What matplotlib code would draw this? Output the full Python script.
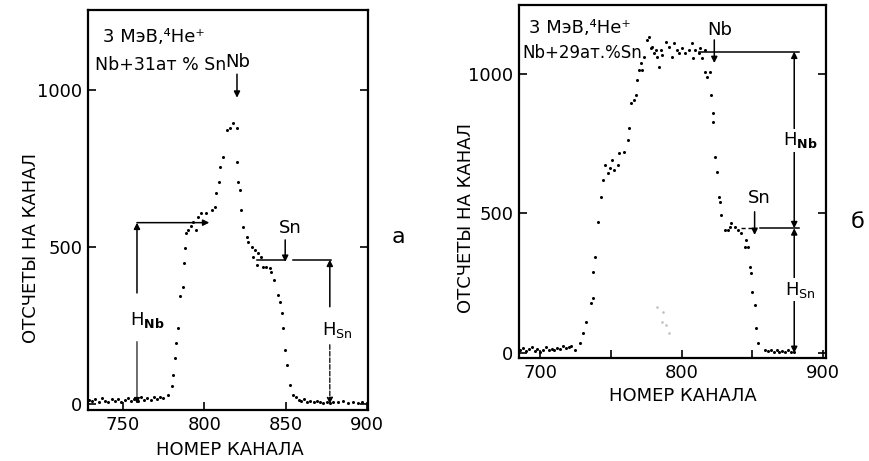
import matplotlib.pyplot as plt
from matplotlib.ticker import MultipleLocator

plt.rcParams['font.family'] = ['DejaVu Sans']

# --- спектр (а): Nb + 31 ат.% Sn ---
ch_a = [729, 731, 733, 735, 737, 739, 741, 743, 745, 747, 749, 751, 753, 755, 757, 759, 761, 763, 765, 767, 769, 771, 773,
        774.6, 777.7, 780, 780.5, 782, 782.6, 784, 785, 786.7, 787.5,
        788, 789, 790, 792, 793, 795, 796, 798, 801, 804.5,
        806.6, 807, 809, 809.6, 811.5, 813.7, 815.7, 817.6, 820, 820,
        820.7, 822, 822.5, 823.6, 826, 826.9, 829, 831, 833, 835,
        830, 832, 836, 838, 840, 841, 843, 845, 846.5, 847.5,
        848.5, 849.6, 850.6, 852.6, 854.5,
        856, 858, 859, 861, 863, 865, 867, 869, 871, 873, 875, 877, 879, 882, 885, 888, 891, 894, 897]
cnt_a = [12, 8, 15, 6, 18, 10, 4, 14, 9, 16, 7, 12, 18, 10, 15, 8, 20, 13, 17, 11, 22, 16, 20,
         19, 29, 55, 92, 146, 193, 241, 342, 372, 448,
         496, 543, 554, 565, 580, 554, 596, 608, 608, 618,
         628, 672, 707, 755, 787, 873, 879, 895, 879, 771,
         707, 682, 618, 564, 532, 516, 500, 490, 481, 468,
         468, 443, 436, 436, 433, 420, 395, 347, 325, 290,
         242, 172, 124, 61, 29,
         20, 12, 8, 14, 6, 10, 4, 8, 5, 3, 7, 2, 6, 4, 8, 3, 5, 2, 4]

# --- спектр (б): Nb + 29 ат.% Sn ---
ch_b = [686, 688, 690, 692, 694, 696, 698, 700, 702, 704, 706, 708, 710, 712, 714, 716, 718, 720, 722,
        724.5, 728, 730, 732.6, 736, 737, 737, 738.5, 740.8, 743,
        744, 745.5, 747.8, 749, 751, 752.4, 754.8, 756, 759.4, 761.8,
        763, 764, 766.4, 767.6, 768.7, 770, 772, 771, 773.4, 775.7,
        777, 778, 779, 780.4, 781.6, 782.7, 784, 785, 786, 788.6,
        791, 793, 794.4, 796.7, 798, 800, 802.6, 805, 807, 808,
        809.6, 812, 813, 814, 816.6, 816.6, 817.7, 820, 821, 822.4,
        822.4, 823.5, 824.7, 826, 827, 828, 830.6, 833, 834, 835,
        837.6, 840, 842, 844.5, 846.8, 845.7, 848, 849, 850, 851.5,
        852.6, 854, 858.6,
        861, 863, 865, 867, 869, 871, 873, 875, 877, 879]
cnt_b = [10, 18, 6, 14, 20, 8, 15, 5, 12, 22, 9, 16, 11, 19, 14, 24, 17, 22, 25,
         11, 36, 72, 111, 179, 197, 290, 344, 470, 559,
         620, 674, 645, 663, 692, 656, 674, 717, 720, 763,
         806, 896, 907, 925, 978, 1014, 1014, 1039, 1061, 1122,
         1133, 1093, 1097, 1075, 1086, 1061, 1025, 1086, 1068, 1115,
         1097, 1061, 1111, 1086, 1075, 1093, 1075, 1086, 1111, 1057,
         1086, 1075, 1093, 1057, 1086, 1007, 989, 1007, 925, 860,
         828, 702, 649, 559, 541, 495, 441, 441, 452, 466,
         452, 441, 430, 380, 380, 405, 308, 287, 219, 172,
         90, 36, 11,
         8, 12, 5, 10, 3, 7, 4, 9, 2, 5]
# бледные точки (отпечаток) на панели б
ch_ghost = [782.5, 787, 786, 788.6, 791]
cnt_ghost = [165, 147, 111, 100, 72]

fig = plt.figure(figsize=(8.7, 4.61), dpi=100)
ax1 = fig.add_axes([0.1011, 0.1106, 0.322, 0.868])
ax2 = fig.add_axes([0.5966, 0.2234, 0.3529, 0.7657])

FS = 13
arr = dict(arrowstyle='-|>', color='k', lw=1.1, mutation_scale=9, shrinkA=0, shrinkB=0)
arr2 = dict(arrowstyle='<|-|>', color='k', lw=1.1, mutation_scale=9, shrinkA=0, shrinkB=0)


def oformit(ax, xlim, ylim, major, minor):
    ax.set_xlim(*xlim)
    ax.set_ylim(*ylim)
    ax.xaxis.set_major_locator(MultipleLocator(major))
    ax.xaxis.set_minor_locator(MultipleLocator(minor))
    ax.set_yticks([0, 500, 1000])
    ax.tick_params(direction='in', right=True, top=False, length=6, width=1.2,
                   labelsize=FS, pad=4)
    ax.tick_params(which='minor', direction='in', length=6, width=1.2, top=False)
    for s in ax.spines.values():
        s.set_linewidth(1.6)
    ax.set_xlabel('НОМЕР КАНАЛА', fontsize=FS)
    ax.set_ylabel('ОТСЧЕТЫ НА КАНАЛ', fontsize=FS)


# ---------- (а) ----------
oformit(ax1, (728.5, 900.5), (-20, 1255), 50, 50)
ax1.plot(ch_a, cnt_a, 'o', color='k', markersize=2.2, markeredgewidth=0)
ax1.xaxis.set_label_coords(0.507, -0.077)
ax1.yaxis.set_label_coords(-0.171, 0.405)
ax1.text(0.235, 0.9325, '3 МэВ,⁴He⁺', transform=ax1.transAxes, ha='center', va='center', fontsize=FS)
ax1.text(0.26, 0.8625, 'Nb+31ат % Sn', transform=ax1.transAxes, ha='center', va='center', fontsize=12.5)

ax1.text(820.5, 1090, 'Nb', ha='center', va='center', fontsize=FS)
ax1.annotate('', xy=(820, 975), xytext=(820, 1050), arrowprops=arr)
ax1.annotate('', xy=(803, 577), xytext=(758.6, 577), arrowprops=arr)
ax1.annotate('', xy=(758.6, 577), xytext=(758.6, 353), arrowprops=arr)
ax1.text(765, 268, r'H$_{\mathbf{Nb}}$', ha='center', va='center', fontsize=FS)
ax1.annotate('', xy=(758.6, 0), xytext=(758.6, 198),
             arrowprops=dict(arr, lw=0.8))

ax1.text(852.6, 560, 'Sn', ha='center', va='center', fontsize=FS)
ax1.annotate('', xy=(849.6, 452), xytext=(849.6, 522), arrowprops=arr)
ax1.plot([832, 849.6], [459, 459], color='k', lw=1.1)
ax1.plot([854.5, 878], [459, 459], color='k', lw=1.1)
ax1.annotate('', xy=(877, 459), xytext=(877, 309), arrowprops=arr)
ax1.text(881.5, 236, r'H$_{\mathrm{Sn}}$', ha='center', va='center', fontsize=FS)
ax1.annotate('', xy=(877, 0), xytext=(877, 188),
             arrowprops=dict(arr, lw=0.9, linestyle='--'))

# ---------- (б) ----------
oformit(ax2, (685, 902), (-18, 1247), 100, 50)
ax2.plot(ch_b, cnt_b, 'o', color='k', markersize=2.2, markeredgewidth=0)
ax2.plot(ch_ghost, cnt_ghost, 'o', color='#bdbdbd', markersize=1.8, markeredgewidth=0)
ax2.xaxis.set_label_coords(0.534, -0.082)
ax2.yaxis.set_label_coords(-0.143, 0.397)
ax2.text(0.199, 0.935, '3 МэВ,⁴He⁺', transform=ax2.transAxes, ha='center', va='center', fontsize=FS)
ax2.text(0.205, 0.864, 'Nb+29ат.%Sn', transform=ax2.transAxes, ha='center', va='center', fontsize=12)

ax2.text(827, 1158, 'Nb', ha='center', va='center', fontsize=FS)
ax2.annotate('', xy=(823, 1039), xytext=(823, 1122), arrowprops=arr)
ax2.plot([812, 883], [1080, 1080], color='k', lw=1.1)
ax2.annotate('', xy=(879.5, 1080), xytext=(879.5, 447), arrowprops=arr2)
ax2.annotate('', xy=(879.5, 0), xytext=(879.5, 447), arrowprops=arr2)
ax2.text(884, 763, r'H$_{\mathbf{Nb}}$', ha='center', va='center', fontsize=FS,
         bbox=dict(facecolor='white', edgecolor='none', pad=1))
ax2.text(884, 226, r'H$_{\mathrm{Sn}}$', ha='center', va='center', fontsize=FS,
         bbox=dict(facecolor='white', edgecolor='none', pad=1))

ax2.text(855, 555, 'Sn', ha='center', va='center', fontsize=FS)
ax2.annotate('', xy=(851.5, 423), xytext=(851.5, 506), arrowprops=arr)
ax2.plot([842, 849.5], [447, 447], color='k', lw=1.0, linestyle=(0, (3, 2)))
ax2.plot([855, 883], [447, 447], color='k', lw=1.1)

fig.text(0.4575, 0.486, 'а', ha='center', va='center', fontsize=16)
fig.text(0.986, 0.518, 'б', ha='center', va='center', fontsize=16)

fig.savefig('out.png', dpi=100)
